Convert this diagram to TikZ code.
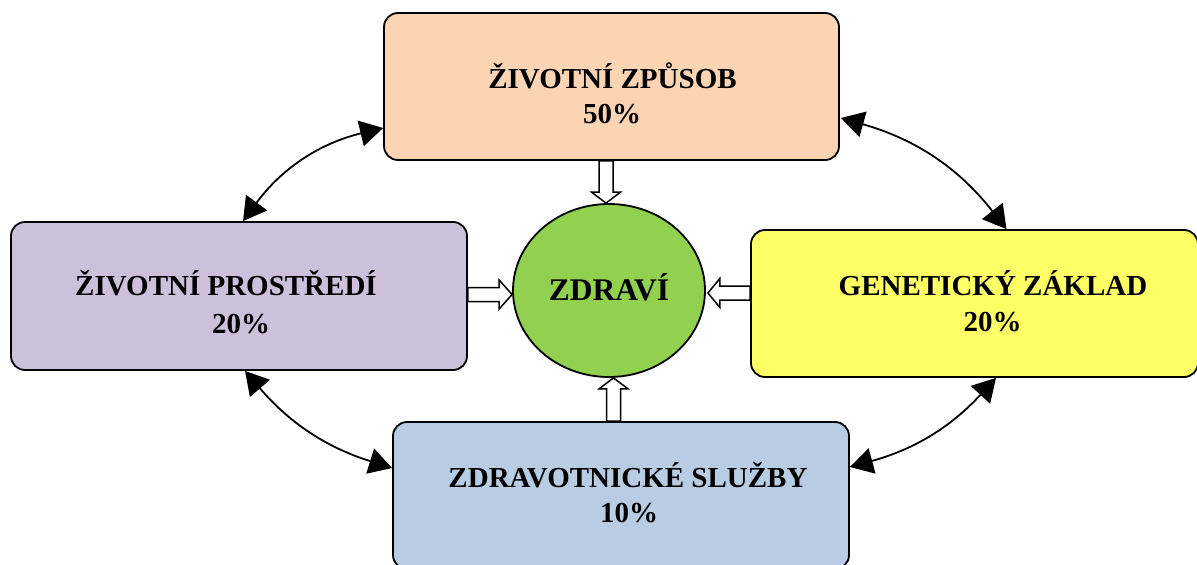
\documentclass[tikz,border=0pt]{standalone}
\usepackage{fontspec}
\setmainfont{Liberation Serif}
\usetikzlibrary{arrows.meta,calc,shapes.geometric}
\definecolor{cpeach}{HTML}{FBD4B4}
\definecolor{clav}{HTML}{CCC0DA}
\definecolor{cyel}{HTML}{FFFF66}
\definecolor{cblue}{HTML}{B8CCE4}
\definecolor{cgreen}{HTML}{92D050}
\newcommand\hollowarrow[3]{%
  \coordinate (hb) at ($(#2)!#3!(#1)$);
  \draw[harrow] ($(#1)!7pt!90:(#2)$) -- ($(hb)!7pt!90:(#2)$) -- ($(hb)!14.5pt!90:(#2)$) -- (#2)
    -- ($(hb)!14.5pt!-90:(#2)$) -- ($(hb)!7pt!-90:(#2)$) -- ($(#1)!7pt!-90:(#2)$) -- cycle;}
\begin{document}
\begin{tikzpicture}[x=1pt,y=-1pt,
  box/.style={draw=black, line width=1.8pt, rounded corners=14pt, rectangle, inner sep=0pt,
    minimum width=#1, minimum height=147pt},
  lbl/.style={font=\fontsize{29}{35}\selectfont\bfseries, inner sep=0pt, anchor=base},
  harrow/.style={draw=black, fill=white, line width=1.5pt, line join=miter},
  link/.style={line width=1.8pt, {Triangle[length=23pt,width=26pt]}-{Triangle[length=23pt,width=26pt]}}]
\useasboundingbox (0,0) rectangle (1197,565);
% boxes
\node[box=455pt, fill=cpeach] (zp) at (611.5,86.5) {};
\node[box=456pt, fill=clav, minimum height=148pt] (zpr) at (239,296) {};
\node[box=447pt, fill=cyel] (gz) at (974.5,303.5) {};
\node[box=456pt, fill=cblue] (zs) at (621,495.5) {};
\node[ellipse, draw=black, line width=1.8pt, fill=cgreen, inner sep=0pt,
  minimum width=192pt, minimum height=173pt] (zdr) at (609,290.5) {};
% labels
\node[lbl] (zpT) at (612.5,88) {ŽIVOTNÍ ZPŮSOB};
\node[lbl] (zpP) at (612,123) {50\%};
\node[lbl] (zprT) at (226,295) {ŽIVOTNÍ PROSTŘEDÍ};
\node[lbl] (zprP) at (241,333) {20\%};
\node[lbl] (gzT) at (993,295) {GENETICKÝ ZÁKLAD};
\node[lbl] (gzP) at (992.5,331) {20\%};
\node[lbl] (zsT) at (628,487) {ZDRAVOTNICKÉ SLUŽBY};
\node[lbl] (zsP) at (629,522) {10\%};
\node[lbl, font=\fontsize{31.5}{36}\selectfont\bfseries] (zdrT) at (609,300.5) {ZDRAVÍ};
% hollow arrows
\coordinate (a1) at ($(zp.south)+(-5.5,0)$);
\coordinate (b1) at (a1 |- zdr.north);
\hollowarrow{a1}{b1}{11pt}
\coordinate (a2) at ($(gz.west)+(0,-10.5)$);
\coordinate (b2) at ($(a2 -| zdr.east)+(2,0)$);
\hollowarrow{a2}{b2}{12pt}
\coordinate (a3) at ($(zs.north)+(-7.5,0)$);
\coordinate (b3) at (a3 |- zdr.south);
\hollowarrow{a3}{b3}{11pt}
\coordinate (a4) at ($(zpr.east)+(0,-1.5)$);
\coordinate (b4) at (a4 -| zdr.west);
\hollowarrow{a4}{b4}{13pt}
% curved links
\draw[link] ($(zp.west)+(0,41.5)$) to[bend right=20] ($(zpr.north)+(4,0)$);
\draw[link] ($(zp.east)+(1,31.5)$) to[bend left=18] ($(gz.north)+(32,0)$);
\draw[link] ($(zpr.south)+(6,0)$) to[bend right=16] ($(zs.west)+(0,-27.5)$);
\draw[link] ($(gz.south)+(21.5,0)$) to[bend left=16] ($(zs.east)+(0,-28.5)$);
\end{tikzpicture}
\end{document}
